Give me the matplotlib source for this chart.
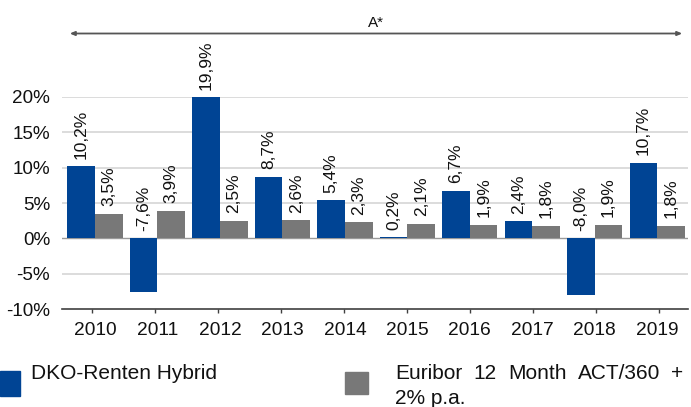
import matplotlib
matplotlib.use("Agg")
import matplotlib.pyplot as plt
import numpy as np
from matplotlib.patches import Rectangle

plt.rcParams['font.family'] = ['Liberation Sans', 'DejaVu Sans']

# ---- data ----
years = ["2010", "2011", "2012", "2013", "2014", "2015", "2016", "2017", "2018", "2019"]
fund = [10.2, -7.6, 19.9, 8.7, 5.4, 0.2, 6.7, 2.4, -8.0, 10.7]
bench = [3.5, 3.9, 2.5, 2.6, 2.3, 2.1, 1.9, 1.8, 1.9, 1.8]
fund_name = "DKO-Renten Hybrid"
bench_name_lines = ["Euribor 12 Month ACT/360 +", "2% p.a."]
yticks = [-10, -5, 0, 5, 10, 15, 20]
top_label = "A*"

BLUE = "#004494"
GREY = "#787878"
GRID = "#D9D9D9"

W, H = 691, 407
fig = plt.figure(figsize=(W / 100, H / 100), dpi=100)

def fx(px):
    return px / W

def fy(py):
    return 1 - py / H

ax = fig.add_axes([fx(61.7), fy(309.3), (688 - 61.7) / W, (309.3 - 96.7) / H])

x = np.arange(len(years))
bw = 0.4434
ax.bar(x - bw / 2, fund, bw, color=BLUE, zorder=3)
ax.bar(x + bw / 2, bench, bw, color=GREY, zorder=3)

def fmt(v):
    return ("%.1f%%" % v).replace(".", ",")

for xi, v in zip(x - bw / 2, fund):
    ax.annotate(fmt(v), (xi, max(v, 0)), xytext=(0, 5.4), textcoords="offset points",
                rotation=90, ha="center", va="bottom", fontsize=12.5, color="#111111",
                annotation_clip=False)
for xi, v in zip(x + bw / 2, bench):
    ax.annotate(fmt(v), (xi, max(v, 0)), xytext=(0, 5.4), textcoords="offset points",
                rotation=90, ha="center", va="bottom", fontsize=12.5, color="#111111",
                annotation_clip=False)

ax.set_ylim(-10, 20)
ax.set_xlim(-0.533, 9.493)
for yv in yticks:
    if yv == -10:
        continue
    if yv == 0:
        ax.axhline(yv, color="#9A9A9A", lw=1.0, zorder=2)
    else:
        ax.axhline(yv, color=GRID, lw=1.3, zorder=1)

ax.set_yticks(yticks)
ax.set_yticklabels(["%d%%" % v for v in yticks])
ax.tick_params(axis="y", length=0, pad=8.4, labelsize=13.6, labelcolor="#111111")

ax.set_xticks(x)
ax.set_xticklabels(years)
ax.tick_params(axis="x", which="major", length=0, pad=9.0, labelsize=13.8, labelcolor="#111111")
minor_pos = (np.arange(len(years)) * 63.03 - 3.3) / 62.47
ax.set_xticks(minor_pos, minor=True)
ax.tick_params(axis="x", which="minor", length=3, width=1.0, color="#404040", direction="out")

for s in ["top", "right", "left"]:
    ax.spines[s].set_visible(False)
ax.spines["bottom"].set_color("#404040")
ax.spines["bottom"].set_linewidth(1.2)
ax.spines["bottom"].set_zorder(4)

# ---- top arrow and label ----
fig.patches.append(matplotlib.patches.FancyArrowPatch(
    (fx(67), fy(33.5)), (fx(685), fy(33.5)), transform=fig.transFigure,
    arrowstyle="<|-|>,head_length=0.35,head_width=0.15", color="#555555",
    lw=1.3, mutation_scale=8))
fig.text(fx(375.8), fy(26.7), top_label, ha="center", va="baseline", fontsize=11,
         color="#111111")

# ---- legend ----
fig.patches.append(Rectangle((fx(0), fy(396)), 20 / W, 25 / H, transform=fig.transFigure,
                             color=BLUE))
fig.patches.append(Rectangle((fx(345), fy(394.3)), 23.3 / W, 22.6 / H, transform=fig.transFigure,
                             color=GREY))
LFS = 15.0
fig.text(fx(30.7), fy(379.3), fund_name, ha="left", va="baseline", fontsize=LFS, color="#111111")

words = bench_name_lines[0].split()
wtexts = [fig.text(0, fy(379.3), w, ha="left", va="baseline", fontsize=LFS, color="#111111")
          for w in words]
fig.canvas.draw()
r = fig.canvas.get_renderer()
widths = [t.get_window_extent(r).width for t in wtexts]
x0, x1 = 395.0, 683.5
gap = (x1 - x0 - sum(widths)) / (len(words) - 1)
cur = x0
for t, wd in zip(wtexts, widths):
    t.set_x(fx(cur))
    cur += wd + gap
fig.text(fx(395), fy(404.3), bench_name_lines[1], ha="left", va="baseline", fontsize=LFS,
         color="#111111")

fig.savefig("out.png", dpi=100)
